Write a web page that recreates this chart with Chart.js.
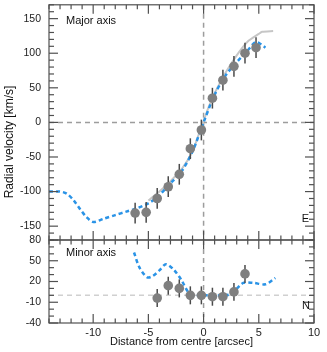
<!DOCTYPE html>
<html><head><meta charset="utf-8">
<script src="https://cdn.jsdelivr.net/npm/chart.js@4.4.1/dist/chart.umd.min.js"></script>
<style>
html,body{margin:0;padding:0;background:#fff;}
#wrap{position:relative;width:327px;height:352px;}
canvas{position:absolute;left:0;top:0;}
</style></head><body>
<div id="wrap"><canvas id="cTop" width="327" height="352"></canvas><canvas id="cBot" width="327" height="352"></canvas></div>
<script>
// ---- data ----
const xRange = [-14, 10];
const xTickLabels = [-10, -5, 0, 5, 10];
const majorYRange = [-170, 170];
const majorYTicks = [-150, -100, -50, 0, 50, 100, 150];
const minorYRange = [-40, 80];
const minorYTicks = [-40, -10, 20, 50, 80];

// Major axis measurements
const majorPos = [-6.2, -5.2, -4.2, -3.2, -2.2, -1.2, -0.2, 0.8, 1.75, 2.75, 3.75, 4.75];
const majorVel = [-131, -130, -110, -93, -75, -38, -11, 35, 61, 81, 100, 108];
const majorErr = [15, 15, 15, 15, 15, 15, 15, 15, 15, 15, 15, 15];
// Major axis blue dashed curve
const majorBlueX = [-14, -13, -12.4, -11.8, -11.2, -10.6, -10, -9, -8, -7, -6, -5, -4.2, -3, -2, -1, 0, 1, 2, 3, 4, 4.7, 5.2, 5.6];
const majorBlueV = [-100, -100, -103, -112, -125, -137, -144, -139, -134, -129, -124, -117, -108, -88, -71, -42, 0, 40, 68, 87, 104, 116, 113, 108];
// Major axis grey model curve
const majorGreyX = [-5, -4, -3, -2, -1, -0.5, 0, 0.5, 1, 2, 3, 4, 5, 5.3, 6.3];
const majorGreyV = [-113, -100, -85, -68, -42, -20, 2, 24, 42, 72, 97, 117, 128, 131, 132];

// Minor axis measurements
const minorPos = [-4.2, -3.2, -2.2, -1.2, -0.2, 0.8, 1.75, 2.75, 3.75];
const minorVel = [-4, 14, 10, 0, 0, -2, -2, 5, 31];
const minorErr = [13, 13, 13, 13, 13, 13, 13, 13, 13];
// Minor axis blue dashed curve
const minorBlueX = [-6.3, -5.8, -5.1, -4.6, -4.0, -3.4, -2.7, -2.0, -1.3, -0.5, 0.5, 1.5, 2.3, 2.9, 3.6, 4.5, 5.6, 6.5];
const minorBlueV = [62, 40, 26, 28, 36, 45, 37, 22, 3, 0, 0, 0, 1, 8, 18, 18, 16, 25];

const zeroRef = 0;
const xMinorStep = 1, xMajorStep = 5, yMinorStep = 10;

// ---- styling ----
const FONT = "'Liberation Sans', Arial, Helvetica, sans-serif";
Chart.defaults.font.family = FONT;
Chart.defaults.color = '#222';
const BLUE = '#2a93e6';
const PT = '#7f7f7f';

const pts = (xs, ys) => xs.map((x, i) => ({x, y: ys[i]}));

function line(ctx, x1, y1, x2, y2) { ctx.beginPath(); ctx.moveTo(x1, y1); ctx.lineTo(x2, y2); ctx.stroke(); }

function framePlugin(yMajor, texts, refColorH) {
  return {
    id: 'frameTicks',
    beforeDatasetsDraw(chart) {
      const {ctx, chartArea: a, scales: {x, y}} = chart;
      ctx.save();
      ctx.setLineDash([5, 4]);
      ctx.lineWidth = 1.5;
      ctx.strokeStyle = refColorH;
      const py = y.getPixelForValue(zeroRef);
      line(ctx, a.left, py, a.right, py);
      ctx.strokeStyle = '#9d9d9d';
      const px = x.getPixelForValue(zeroRef);
      line(ctx, px, a.top, px, a.bottom);
      ctx.restore();
    },
    beforeDatasetDraw(chart, args) {
      if (args.index !== 0) return;
      const {ctx, scales: {x, y}} = chart;
      const ds = chart.data.datasets[0];
      ctx.save();
      ctx.strokeStyle = '#4a4a4a';
      ctx.lineWidth = 1.5;
      ds.data.forEach((p, i) => {
        const e = ds.errors[i];
        const px = x.getPixelForValue(p.x);
        line(ctx, px, y.getPixelForValue(p.y - e), px, y.getPixelForValue(p.y + e));
      });
      ctx.restore();
    },
    afterDatasetsDraw(chart) {
      const {ctx, chartArea: a, scales: {x, y}} = chart;
      ctx.save();
      ctx.strokeStyle = '#505050';
      ctx.lineWidth = 1.2;
      ctx.strokeRect(a.left, a.top, a.right - a.left, a.bottom - a.top);
      for (let v = Math.ceil(x.min); v <= x.max; v += xMinorStep) {
        const px = x.getPixelForValue(v);
        const len = v % xMajorStep === 0 ? 9 : 4.5;
        line(ctx, px, a.top, px, a.top + len);
        line(ctx, px, a.bottom, px, a.bottom - len);
      }
      for (let v = Math.ceil(y.min / yMinorStep) * yMinorStep; v <= y.max; v += yMinorStep) {
        const py = y.getPixelForValue(v);
        const len = yMajor.includes(v) ? 9 : 5;
        line(ctx, a.left, py, a.left + len, py);
        line(ctx, a.right, py, a.right - len, py);
      }
      ctx.fillStyle = '#111';
      ctx.font = '11px ' + FONT;
      ctx.textBaseline = 'middle';
      texts.forEach(t => {
        ctx.textAlign = t.align;
        ctx.fillText(t.text, t.fx(a), t.fy(a));
      });
      ctx.restore();
    }
  };
}

const yTitlePlugin = {
  id: 'yTitle',
  afterDraw(chart) {
    const ctx = chart.ctx;
    ctx.save();
    ctx.translate(10, 142);
    ctx.rotate(-Math.PI / 2);
    ctx.textAlign = 'center';
    ctx.textBaseline = 'middle';
    ctx.fillStyle = '#111';
    ctx.font = '12px ' + FONT;
    ctx.fillText('Radial velocity [km/s]', 0, 0);
    ctx.restore();
  }
};

function yScale(range, ticks) {
  return {
    min: range[0], max: range[1],
    afterBuildTicks(s) { s.ticks = ticks.map(v => ({value: v})); },
    afterFit(s) { s.width = 49; s.paddingTop = 0; s.paddingBottom = 0; },
    grid: {display: false, drawTicks: false},
    border: {display: false},
    ticks: {padding: 8, font: {size: 10.5}, color: '#222'}
  };
}

const common = {
  responsive: false, devicePixelRatio: 1, animation: false,
  plugins: {legend: {display: false}, tooltip: {enabled: false}},
};

new Chart(document.getElementById('cTop'), {
  type: 'scatter',
  data: {datasets: [
    {data: pts(majorPos, majorVel), errors: majorErr, pointRadius: 4.8, backgroundColor: PT, borderWidth: 0, showLine: false},
    {data: pts(majorBlueX, majorBlueV), showLine: true, borderColor: BLUE, borderWidth: 2.5, borderDash: [4, 3], pointRadius: 0, tension: 0.3},
    {data: pts(majorGreyX, majorGreyV), showLine: true, borderColor: '#c6c6c6', borderWidth: 2, pointRadius: 0, tension: 0.2}
  ]},
  options: Object.assign({}, common, {
    layout: {padding: {top: 4, right: 13, bottom: 112, left: 0}},
    scales: {
      x: {type: 'linear', min: xRange[0], max: xRange[1], display: false},
      y: yScale(majorYRange, majorYTicks)
    }
  }),
  plugins: [framePlugin(majorYTicks, [
    {text: 'Major axis', align: 'left', fx: a => a.left + 17, fy: a => a.top + 16},
    {text: 'E', align: 'right', fx: a => a.right - 5, fy: a => a.bottom - 21}
  ], '#9d9d9d'), yTitlePlugin]
});

new Chart(document.getElementById('cBot'), {
  type: 'scatter',
  data: {datasets: [
    {data: pts(minorPos, minorVel), errors: minorErr, pointRadius: 4.8, backgroundColor: PT, borderWidth: 0, showLine: false},
    {data: pts(minorBlueX, minorBlueV), showLine: true, borderColor: BLUE, borderWidth: 2.5, borderDash: [4, 3], pointRadius: 0, tension: 0.3}
  ]},
  options: Object.assign({}, common, {
    layout: {padding: {top: 240, right: 13, bottom: 0, left: 0}},
    scales: {
      x: {
        type: 'linear', min: xRange[0], max: xRange[1],
        afterBuildTicks(s) { s.ticks = xTickLabels.map(v => ({value: v})); },
        afterFit(s) { s.height = 29; s.paddingLeft = 0; s.paddingRight = 0; },
        grid: {display: false, drawTicks: false},
        border: {display: false},
        ticks: {padding: 3, font: {size: 11}, color: '#222', maxRotation: 0},
        title: {display: true, text: 'Distance from centre [arcsec]', font: {size: 11}, color: '#111', padding: {top: 0, bottom: 3}}
      },
      y: yScale(minorYRange, minorYTicks)
    }
  }),
  plugins: [framePlugin(minorYTicks, [
    {text: 'Minor axis', align: 'left', fx: a => a.left + 17, fy: a => a.top + 13},
    {text: 'N', align: 'right', fx: a => a.right - 4, fy: a => a.bottom - 17}
  ], '#d0d0d0')]
});
</script></body></html>
